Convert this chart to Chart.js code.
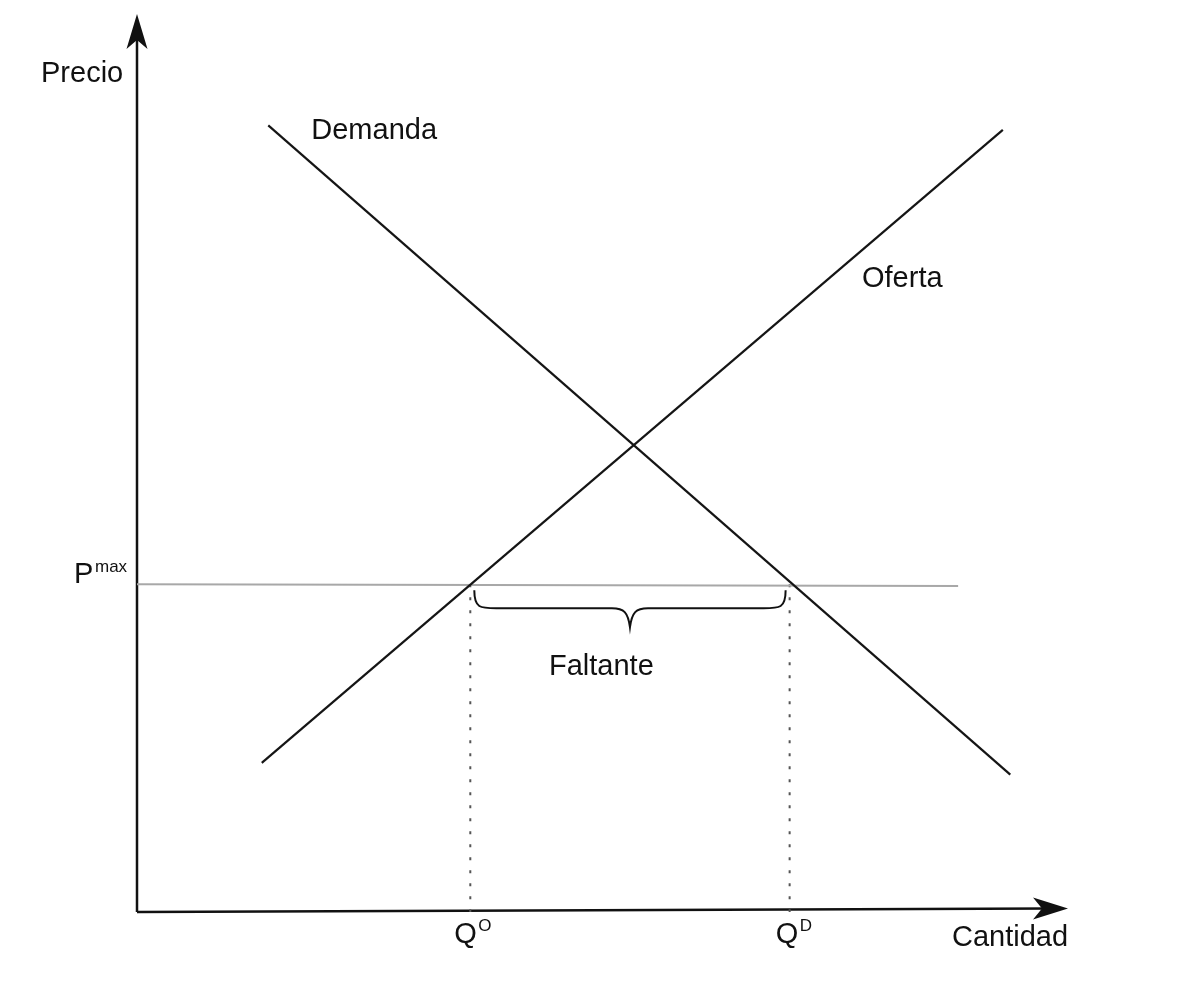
<!DOCTYPE html>
<html>
<head>
<meta charset="utf-8">
<script src="https://cdn.jsdelivr.net/npm/chart.js@4.4.1/dist/chart.umd.min.js"></script>
<style>
html,body{margin:0;padding:0;background:#fff;}
canvas{display:block;}
</style>
</head>
<body>
<canvas id="c" width="1179" height="988"></canvas>
<script>
// ---- data (model units: quantity 0..10, price 0..10) ----
const demandQ = [1.41, 9.38];
const demandP = [8.76, 1.53];
const supplyQ = [1.34, 9.30];
const supplyP = [1.66, 8.71];
const priceCeiling = 3.65;
const ceilingEndQ = 8.82;
const qSupplied = 3.58;
const qDemanded = 7.01;
const axisQ = [0, 10];
const axisP = [0, 10];

const pts = (xs, ys) => xs.map((x, i) => ({x, y: ys[i]}));

const FONT = '"Liberation Sans", Arial, sans-serif';

const drawPlugin = {
  id: 'econ',
  afterDatasetsDraw(chart) {
    const ctx = chart.ctx;
    const xs = chart.scales.x, ys = chart.scales.y;
    const X = v => xs.getPixelForValue(v);
    const Y = v => ys.getPixelForValue(v);
    ctx.save();
    // arrow heads
    ctx.fillStyle = '#111';
    let tx = X(axisQ[0]), ty = Y(axisP[1]);
    ctx.beginPath();
    ctx.moveTo(tx, ty);
    ctx.lineTo(tx + 10.5, ty + 35);
    ctx.lineTo(tx, ty + 26);
    ctx.lineTo(tx - 10.5, ty + 35);
    ctx.closePath();
    ctx.fill();
    tx = X(axisQ[1]); ty = Y(0.04);
    ctx.beginPath();
    ctx.moveTo(tx, ty);
    ctx.lineTo(tx - 35, ty - 11);
    ctx.lineTo(tx - 26, ty);
    ctx.lineTo(tx - 35, ty + 11);
    ctx.closePath();
    ctx.fill();

    // brace under the ceiling, between Q^O and Q^D
    const x1 = X(qSupplied) + 4, x2 = X(qDemanded) - 4;
    const yTop = Y(priceCeiling) + 6;
    const yMid = yTop + 18;
    const yTip = yTop + 37;
    const xm = (x1 + x2) / 2;
    ctx.strokeStyle = '#111';
    ctx.lineWidth = 2;
    ctx.beginPath();
    ctx.moveTo(x1, yTop);
    ctx.bezierCurveTo(x1, yMid, x1 + 6, yMid, x1 + 22, yMid);
    ctx.lineTo(xm - 18, yMid);
    ctx.bezierCurveTo(xm - 6, yMid, xm - 2, yMid + 4, xm, yTip);
    ctx.bezierCurveTo(xm + 2, yMid + 4, xm + 6, yMid, xm + 18, yMid);
    ctx.lineTo(x2 - 22, yMid);
    ctx.bezierCurveTo(x2 - 6, yMid, x2, yMid, x2, yTop);
    ctx.stroke();

    // labels
    ctx.fillStyle = '#111';
    ctx.textAlign = 'left';
    ctx.textBaseline = 'alphabetic';
    ctx.font = '29px ' + FONT;
    const big = [
      ['Precio', X(axisQ[0]) - 96, Y(axisP[1]) + 68],
      ['Demanda', X(demandQ[0]) + 43, Y(demandP[0]) + 14],
      ['Oferta', 862, 287],
      ['Faltante', 549, 675],
      ['Cantidad', 952, 946],
    ];
    big.forEach(([t, x, y]) => ctx.fillText(t, x, y));
    ctx.fillText('P', 74, Y(priceCeiling) - 1);
    ctx.fillText('Q', X(qSupplied) - 16, 943);
    ctx.fillText('Q', X(qDemanded) - 14, 943);
    ctx.font = '17px ' + FONT;
    ctx.fillText('max', 95, Y(priceCeiling) - 12);
    ctx.fillText('O', X(qSupplied) + 8, 931);
    ctx.fillText('D', X(qDemanded) + 10, 931);
    ctx.restore();
  }
};

new Chart(document.getElementById('c'), {
  type: 'scatter',
  data: {
    datasets: [
      { label: 'Demanda', data: pts(demandQ, demandP), showLine: true, borderColor: '#151515', borderWidth: 2.2, pointRadius: 0 },
      { label: 'Oferta', data: pts(supplyQ, supplyP), showLine: true, borderColor: '#151515', borderWidth: 2.2, pointRadius: 0 },
      { label: 'Pmax', data: [{x: 0, y: priceCeiling}, {x: ceilingEndQ, y: priceCeiling - 0.02}], showLine: true, borderColor: '#a8a8a8', borderWidth: 2, pointRadius: 0 },
      { label: 'QO', data: [{x: qSupplied, y: priceCeiling}, {x: qSupplied, y: 0}], showLine: true, borderColor: '#555', borderWidth: 2, borderDash: [3, 10], pointRadius: 0 },
      { label: 'QD', data: [{x: qDemanded, y: priceCeiling}, {x: qDemanded, y: 0}], showLine: true, borderColor: '#555', borderWidth: 2, borderDash: [3, 10], pointRadius: 0 },
      { label: 'axisY', data: [{x: axisQ[0], y: axisP[0]}, {x: axisQ[0], y: axisP[1] - 0.2}], showLine: true, borderColor: '#111', borderWidth: 2.5, pointRadius: 0 },
      { label: 'axisX', data: [{x: axisQ[0], y: axisP[0]}, {x: axisQ[1] - 0.2, y: 0.04}], showLine: true, borderColor: '#111', borderWidth: 2.5, pointRadius: 0 },
    ]
  },
  options: {
    responsive: false,
    animation: false,
    layout: { padding: { left: 137, right: 111, top: 14, bottom: 76 } },
    plugins: { legend: { display: false }, tooltip: { enabled: false } },
    scales: {
      x: { type: 'linear', min: 0, max: 10, display: false },
      y: { type: 'linear', min: 0, max: 10, display: false }
    },
    elements: { line: { tension: 0, borderCapStyle: 'butt' } },
    clip: false
  },
  plugins: [drawPlugin]
});
</script>
</body>
</html>
